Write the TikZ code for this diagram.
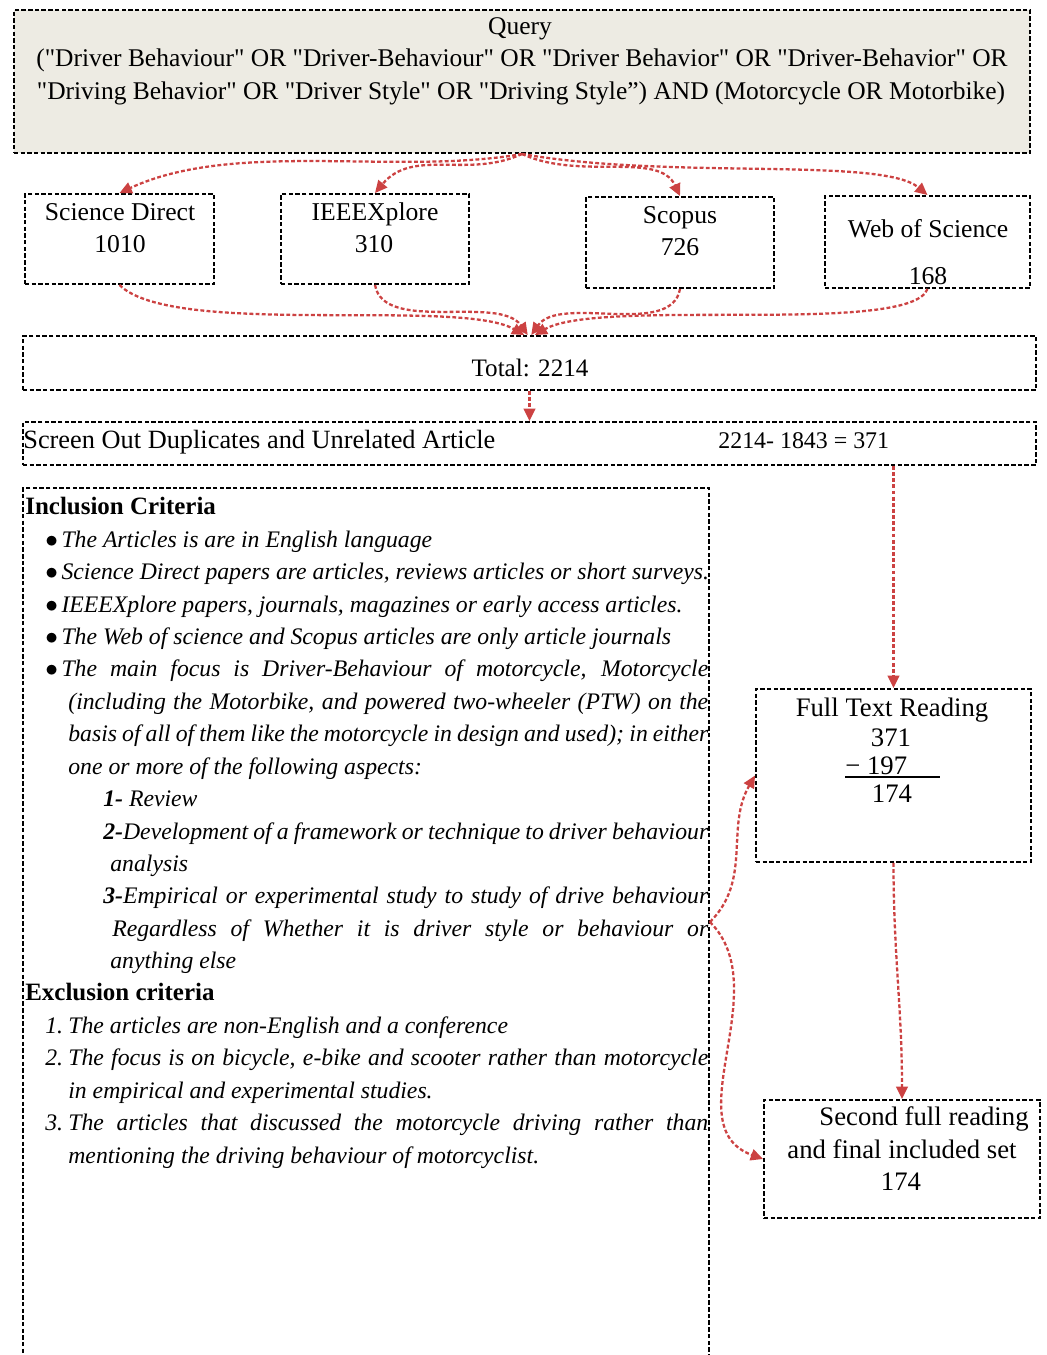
\documentclass[tikz,border=0pt]{standalone}
\usepackage{fontspec}
\setmainfont{Liberation Serif}[Ligatures=TeXOff]
\usetikzlibrary{arrows.meta}
\usetikzlibrary{fit}
\definecolor{arrowred}{rgb}{0.80,0.26,0.26}
\definecolor{querybg}{rgb}{0.93,0.92,0.89}
\newcommand{\jbox}[2]{\makebox[#1][s]{#2}}
\newcommand{\bul}{$\bullet$\kern2pt}

\begin{document}
\begin{tikzpicture}[x=0.02cm, y=-0.02cm,
  box/.style={draw, dash pattern=on 2.5pt off 1.3pt, line width=1.1pt, inner sep=0pt},
  flow/.style={draw=arrowred, dash pattern=on 2.2pt off 1.3pt, line width=1.3pt,
    -{Triangle[length=7pt,width=6.5pt]}},
  txt/.style={inner sep=0pt, anchor=mid, yshift=-2.2pt, font=\fontsize{14.6}{16}\selectfont},
  big/.style={inner sep=0pt, anchor=mid, yshift=-2.2pt, font=\fontsize{15.2}{17}\selectfont},
  crit/.style={inner sep=0pt, anchor=mid west, yshift=-2.2pt, font=\fontsize{13.5}{15}\selectfont\itshape},
  head/.style={inner sep=0pt, anchor=mid west, yshift=-2.2pt, font=\fontsize{14.2}{16}\selectfont\bfseries}]

  \useasboundingbox (0,0) rectangle (1046,1355);

  % Kaesten
  \node[box, fill=querybg, fit={(14,10) (1030,153)}] (query) {};
  \node[box, fit={(25,194) (214,284)}] (sd) {};
  \node[box, fit={(281,194) (469,284)}] (ieee) {};
  \node[box, fit={(586,197) (774,288)}] (scopus) {};
  \node[box, fit={(825,196) (1030,288)}] (wos) {};
  \node[box, fit={(23,336) (1036,390)}] (total) {};
  \node[box, fit={(23,422) (1036,465)}] (screen) {};
  \node[box, fit={(23,488) (709,1420)}] (crit) {};
  \node[box, fit={(756,689) (1031,862)}] (full) {};
  \node[box, fit={(764,1100) (1040,1218)}] (sec) {};

  % Query
  \node[txt, font=\fontsize{14.5}{16}\selectfont] (qa) at (520,27) {Query};
  \node[txt, font=\fontsize{14.5}{16}\selectfont] (qb) at (522,59) {("Driver Behaviour" OR "Driver-Behaviour" OR "Driver Behavior" OR "Driver-Behavior" OR};
  \node[txt, font=\fontsize{14.5}{16}\selectfont] (qc) at (521,92) {"Driving Behavior" OR "Driver Style" OR "Driving Style”) AND (Motorcycle OR Motorbike)};

  % Datenbanken
  \node[txt] (sda) at (120,213) {Science Direct};
  \node[txt] (sdb) at (120,245) {1010};
  \node[txt] (ieeea) at (375,213) {IEEEXplore};
  \node[txt] (ieeeb) at (374,245) {310};
  \node[txt] (scopusa) at (680,216) {Scopus};
  \node[txt] (scopusb) at (680,248) {726};
  \node[txt] (wosa) at (928,230) {Web of Science};
  \node[txt] (wosb) at (928,277) {168};

  % Summe und Screening
  \node[txt, font=\fontsize{14.3}{16}\selectfont] (totala) at (530,369) {Total: 2214};
  \node[crit, font=\fontsize{15}{16}\selectfont] (screena) at (23,441) {Screen Out Duplicates and Unrelated Article};
  \node[crit, font=\fontsize{13.6}{16}\selectfont] (screenb) at (718,441) {2214- 1843 = 371};

  % Einschlusskriterien
  \node[head] (inc) at (25,507) {Inclusion Criteria};
  \node[crit] (i1) at (45,540) {\bul The Articles is are in English language};
  \node[crit] (i2) at (45,572) {\bul Science Direct papers are articles, reviews articles or short surveys.};
  \node[crit] (i3) at (45,605) {\bul IEEEXplore papers, journals, magazines or early access articles.};
  \node[crit] (i4) at (45,637) {\bul The Web of science and Scopus articles are only article journals};
  \node[crit] (i5) at (45,669) {\jbox{13.26cm}{\bul The main focus is Driver-Behaviour of motorcycle, Motorcycle}};
  \node[crit] (i6) at (68,702) {\jbox{12.8cm}{(including the Motorbike, and powered two-wheeler (PTW) on the}};
  \node[crit] (i7) at (68,734) {\jbox{12.8cm}{basis of all of them like the motorcycle in design and used); in either}};
  \node[crit] (i8) at (68,767) {one or more of the following aspects:};
  \node[crit] (a1) at (103,799) {\textbf{1-} Review};
  \node[crit] (a2) at (103,832) {\jbox{12.1cm}{\textbf{2-}Development of a framework or technique to driver behaviour}};
  \node[crit] (a2b) at (110,864) {analysis};
  \node[crit] (a3) at (103,896) {\jbox{12.1cm}{\textbf{3-}Empirical or experimental study to study of drive behaviour}};
  \node[crit] (a3b) at (112,929) {\jbox{11.92cm}{Regardless of Whether it is driver style or behaviour or}};
  \node[crit] (a3c) at (110,961) {anything else};

  % Ausschlusskriterien
  \node[head] (exc) at (25,993) {Exclusion criteria};
  \node[crit] (e1) at (45,1026) {1.\kern3pt The articles are non-English and a conference};
  \node[crit] (e2) at (45,1058) {\jbox{13.26cm}{2.\kern3pt The focus is on bicycle, e-bike and scooter rather than motorcycle}};
  \node[crit] (e2b) at (68,1091) {in empirical and experimental studies.};
  \node[crit] (e3) at (45,1123) {\jbox{13.26cm}{3.\kern3pt The articles that discussed the motorcycle driving rather than}};
  \node[crit] (e3b) at (68,1156) {mentioning the driving behaviour of motorcyclist.};

  % Volltext
  \node[big] (fulla) at (892,709) {Full Text Reading};
  \node[big] (fullb) at (891,739) {371};
  \node[crit, font=\fontsize{15.2}{17}\selectfont] (fullc) at (845,767) {− 197};
  \node[big] (fulld) at (892,795) {174};
  \draw[line width=0.6pt] (fullc.south west |- 0,777) -- (940,777);

  % Endauswahl
  \node[big] (seca) at (924,1118) {Second full reading};
  \node[big] (secb) at (902,1151) {and final included set};
  \node[big] (secc) at (901,1183) {174};

  % Pfeile
  \draw[flow] (query.south) to[out=190,in=25,looseness=0.8] (sd.north);
  \draw[flow] (query.south) to[out=205,in=50] (ieee.north);
  \draw[flow] (query.south) to[out=-25,in=115,in distance=1cm] (scopus.north);
  \draw[flow] (query.south) to[out=-10,in=140,out distance=3cm,in distance=1.2cm] (wos.north);
  \draw[flow] (sd.south) to[out=-45,in=150,out distance=1.5cm,in distance=1.5cm] ([xshift=-3pt]total.north);
  \draw[flow] (ieee.south) to[out=-80,in=125,out distance=1cm,in distance=1cm] ([xshift=-1pt]total.north);
  \draw[flow] (scopus.south) to[out=-100,in=55,out distance=1cm,in distance=1cm] ([xshift=1pt]total.north);
  \draw[flow] (wos.south) to[out=-110,in=30,out distance=1cm,in distance=1.5cm] ([xshift=3pt]total.north);
  \draw[flow] (total.south) -- (screen.north);
  \draw[flow] (screen.south -| full.north) -- (full.north);
  \draw[flow] (full.south) to[out=-90,in=90] (sec.north);
  \coordinate (br) at (crit.east |- 0,922);
  \draw[flow] (br) to[out=45,in=240] (full.west);
  \draw[flow] (br) to[out=-45,in=160] (sec.west);

\end{tikzpicture}
\end{document}
